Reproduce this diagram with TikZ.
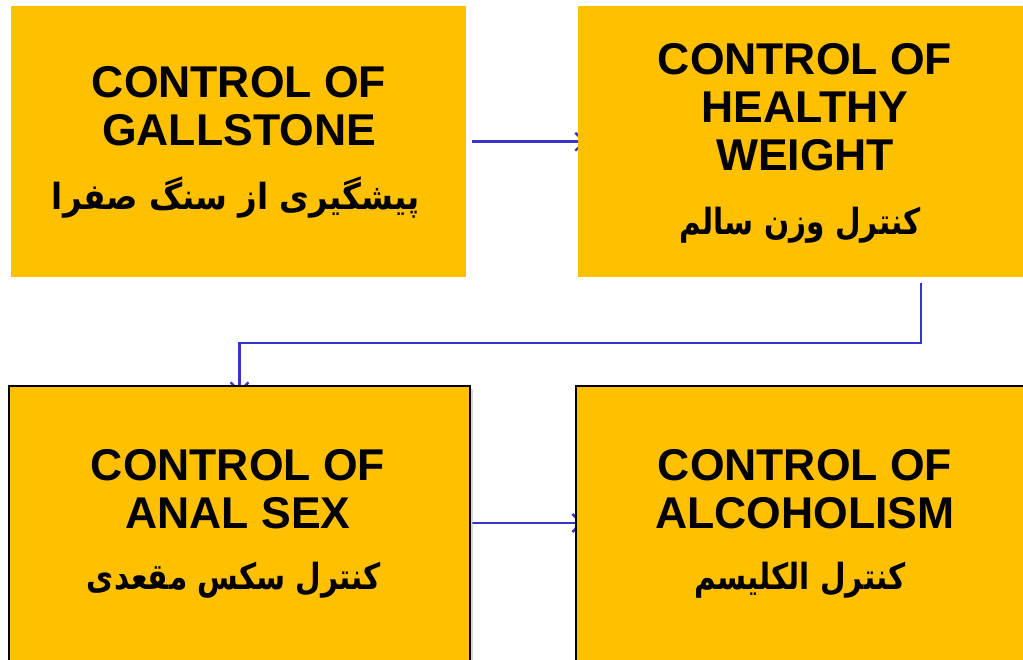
\documentclass[tikz,border=0pt]{standalone}
\usepackage{fontspec}
\setmainfont{Liberation Sans}
\newfontfamily\arabicfont[Script=Arabic]{DejaVu Sans}
\TeXXeTstate=1
\usetikzlibrary{arrows.meta,backgrounds,shadows}
\definecolor{boxgold}{HTML}{FFC000}
\definecolor{linkblue}{HTML}{3535CC}
% bold Arabic line, narrowed horizontally by the given factor
\newcommand{\artx}[2][0.82]{\scalebox{#1}[1]{\arabicfont\bfseries\fontsize{36}{40}\selectfont\beginR #2\endR}}
\tikzset{
  goldbox/.style={fill=boxgold, draw=none, anchor=north west, inner sep=0pt},
  framedbox/.style={goldbox, draw=black, line width=2pt,
    drop shadow={shadow xshift=3pt, shadow yshift=-3pt, fill=black!30, opacity=0.5}},
  entext/.style={font=\bfseries\fontsize{44.5}{48}\selectfont, align=center, inner sep=0pt},
  artext/.style={inner sep=0pt},
  link/.style={draw=linkblue, line width=2.4pt, -{Straight Barb[length=9pt,width=18pt]}},
}
\begin{document}
\begin{tikzpicture}[x=1pt, y=-1pt]
\useasboundingbox (0,0) rectangle (1023,660);
\clip (0,0) rectangle (1023,660);

% four boxes
\node[goldbox, minimum width=455pt, minimum height=271pt] (tl) at (11,6) {};
\node[goldbox, minimum width=460pt, minimum height=271pt] (tr) at (578,6) {};
\node[framedbox, minimum width=461pt, minimum height=300pt] (bl) at (8,385) {};
\node[framedbox, minimum width=460pt, minimum height=300pt] (br) at (575,385) {};

% box texts
\node[entext] (tlen) at (239,106.5) {CONTROL OF\\GALLSTONE};
\node[artext] (tlar) at (236,198) {\artx[0.9]{پیشگیری از سنگ صفرا}};

\node[entext] (tren) at (805,107) {CONTROL OF\\HEALTHY\\WEIGHT};
\node[artext] (trar) at (800,225) {\artx{کنترل وزن سالم}};

\node[entext] (blen) at (238,489) {CONTROL OF\\ANAL SEX};
\node[artext] (blar) at (234,580) {\artx{کنترل سکس مقعدی}};

\node[entext] (bren) at (805,489) {CONTROL OF\\ALCOHOLISM};
\node[artext] (brar) at (800,580) {\artx{کنترل الکلیسم}};

% connectors, running behind the boxes
\coordinate (s2) at (921,283);
\coordinate (bend) at (921,343);
\begin{scope}[on background layer]
  \fill[white] (0,0) rectangle (1023,660);
  \draw[link] ([xshift=6pt]tl.east) -- ([xshift=8pt]tr.west);
  \draw[link] (s2) -- (bend) -| ([yshift=-8pt]bl.north);
  \draw[link] ([xshift=1pt]bl.east |- 0,523) -- ([xshift=8pt]br.west |- 0,523);
\end{scope}
\end{tikzpicture}
\end{document}
